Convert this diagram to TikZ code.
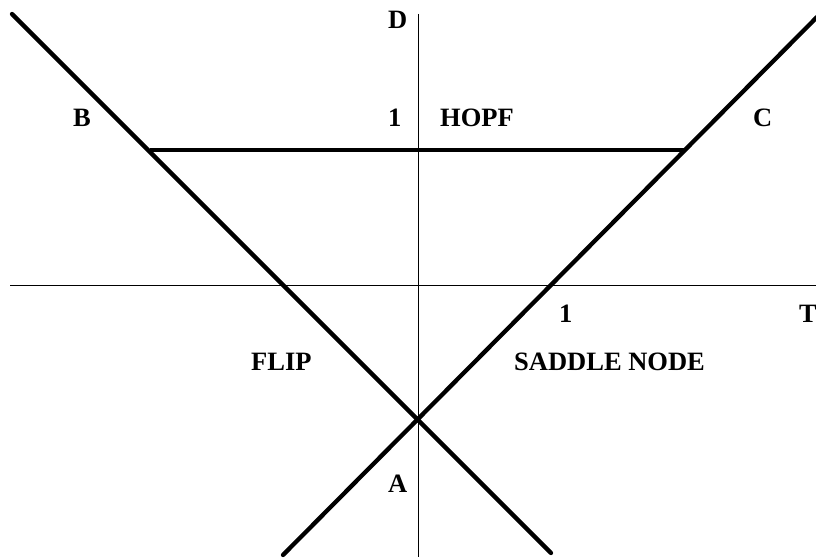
\documentclass[tikz,border=0pt]{standalone}
\usepackage{fontspec}
\setmainfont{Liberation Serif}
\begin{document}
\begin{tikzpicture}[x=1pt,y=-1pt,
  lbl/.style={inner sep=0pt,anchor=base west,font=\fontsize{26.5}{26.5}\selectfont\bfseries},
  thickline/.style={line width=4.3pt,line cap=round},
  axisline/.style={line width=1pt}]
\useasboundingbox (0,0) rectangle (816,559);
% points
\coordinate (A) at (418,420);
\coordinate (Btop) at (12,14);
\coordinate (Bbot) at (551,553);
\coordinate (Ctop) at (817,17);
\coordinate (Cbot) at (283,555);
\coordinate (H1) at (150,150);
\coordinate (H2) at (686,150);
\coordinate (Xl) at (10,285);
\coordinate (Xr) at (816,285);
\coordinate (Yt) at (418,14);
\coordinate (Yb) at (418,557);
% axes
\draw[axisline] (Xl) -- (Xr);
\draw[axisline] (Yt) -- (Yb);
% bifurcation lines
\draw[thickline] (Btop) -- (Bbot);
\draw[thickline] (Cbot) -- (Ctop);
\draw[line width=4.3pt] (H1) -- (H2);
% labels
\node[lbl] (lD) at (388,29) {D};
\node[lbl] (l1y) at (388,127) {1};
\node[lbl] (lH) at (440,127) {HOPF};
\node[lbl] (lB) at (73,127) {B};
\node[lbl] (lC) at (753,127) {C};
\node[lbl] (l1x) at (559,322) {1};
\node[lbl] (lT) at (799,322) {T};
\node[lbl] (lF) at (251,370) {FLIP};
\node[lbl] (lS) at (514,370) {SADDLE NODE};
\node[lbl] (lA) at (388,492) {A};
\end{tikzpicture}
\end{document}
